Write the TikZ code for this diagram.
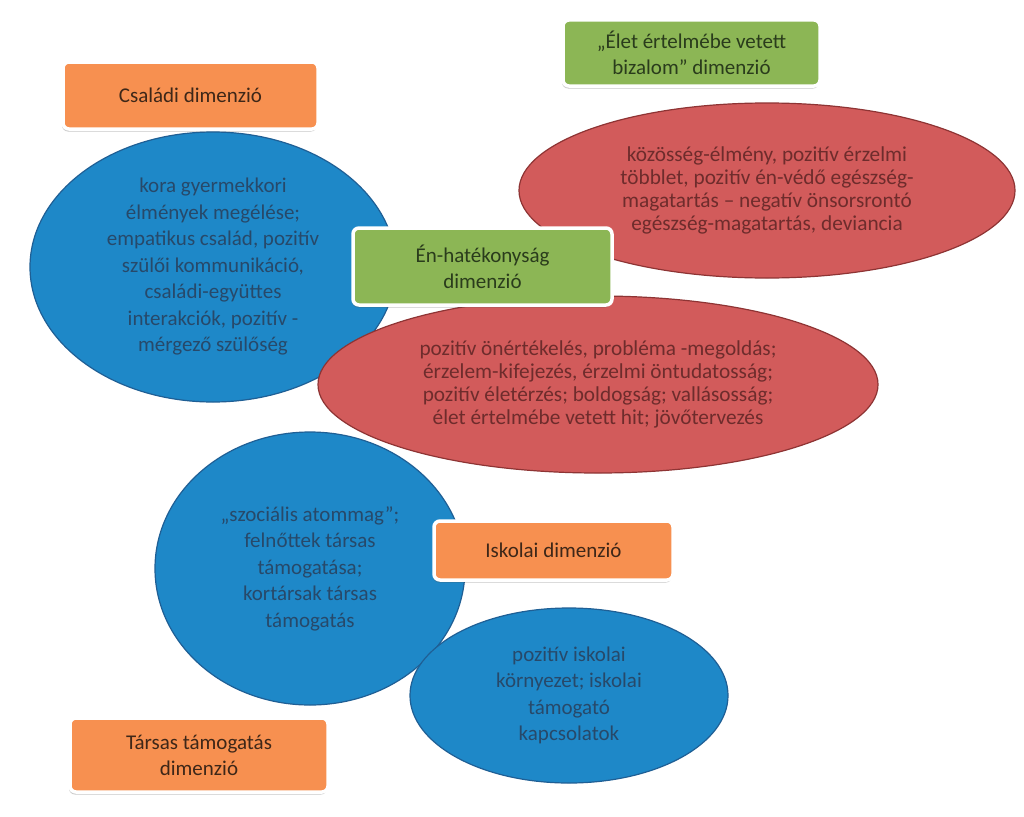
\documentclass[tikz,border=0pt]{standalone}
\usepackage{fontspec}
\setmainfont{Carlito}
\usetikzlibrary{shapes.geometric,shadows}
\definecolor{orangefill}{HTML}{F79050}
\definecolor{greenfill}{HTML}{8CB655}
\definecolor{bluefill}{HTML}{1E88C8}
\definecolor{blueline}{HTML}{1F5F95}
\definecolor{redfill}{HTML}{D25B5B}
\definecolor{redline}{HTML}{8E3434}
\definecolor{bluetext}{HTML}{27496A}
\definecolor{redtext}{HTML}{6E2C2C}
\definecolor{orangetext}{HTML}{3E2718}
\definecolor{greentext}{HTML}{2A3C1C}
\tikzset{
  dimbox/.style={rectangle, rounded corners=6pt, draw=white, line width=3.5pt,
    align=center, inner sep=0pt,
    font=\fontsize{21}{26}\selectfont,
    drop shadow={shadow xshift=-1pt, shadow yshift=-2.5pt, opacity=0.3, fill=black!70}},
  orangebox/.style={dimbox, fill=orangefill, text=orangetext},
  greenbox/.style={dimbox, fill=greenfill, text=greentext},
  blueoval/.style={ellipse, fill=bluefill, draw=blueline, line width=1.2pt,
    inner sep=0pt, align=center, text=bluetext,
    font=\fontsize{21}{26.5}\selectfont},
  redoval/.style={ellipse, fill=redfill, draw=redline, line width=1.2pt,
    inner sep=0pt, align=center, text=redtext,
    font=\fontsize{21.3}{23}\selectfont}
}
\begin{document}
\begin{tikzpicture}[x=1pt, y=-1pt]
\useasboundingbox[fill=white] (0,0) rectangle (1024,816);

\node[orangebox, minimum width=255pt, minimum height=67pt] (csaladi) at (190.5,95.5) {Családi dimenzió};

\node[blueoval, minimum width=366pt, minimum height=270pt] (csaladiov) at (213,267)
  {kora gyermekkori\\élmények megélése;\\empatikus család, pozitív\\szülői kommunikáció,\\családi-együttes\\interakciók, pozitív -\\mérgező szülőség};

\node[greenbox, minimum width=257pt, minimum height=66pt] (elet) at (691.5,53)
  {„Élet értelmébe vetett\\bizalom” dimenzió};

\node[redoval, minimum width=496pt, minimum height=175pt] (eletov) at (767,190.5)
  {közösség-élmény, pozitív érzelmi\\többlet, pozitív én-védő egészség-\\magatartás – negatív önsorsrontó\\egészség-magatartás, deviancia};

\node[redoval, minimum width=560pt, minimum height=177pt] (enov) at (598,384.5)
  {pozitív önértékelés, probléma -megoldás;\\érzelem-kifejezés, érzelmi öntudatosság;\\pozitív életérzés; boldogság; vallásosság;\\élet értelmébe vetett hit; jövőtervezés};

\node[greenbox, minimum width=259pt, minimum height=77pt] (en) at (482.5,266.5)
  {Én-hatékonyság\\dimenzió};

\node[blueoval, minimum width=310pt, minimum height=273pt] (tarsasov) at (310,568.5)
  {„szociális atommag”;\\felnőttek társas\\támogatása;\\kortársak társas\\támogatás};

\node[blueoval, minimum width=318pt, minimum height=175pt] (iskolaiov) at (569,695.5)
  {pozitív iskolai\\környezet; iskolai\\támogató\\kapcsolatok};

\node[orangebox, minimum width=239pt, minimum height=59pt] (iskolai) at (553.5,550.5) {Iskolai dimenzió};

\node[orangebox, minimum width=258pt, minimum height=74pt] (tarsas) at (199,755)
  {Társas támogatás\\dimenzió};
\end{tikzpicture}
\end{document}
